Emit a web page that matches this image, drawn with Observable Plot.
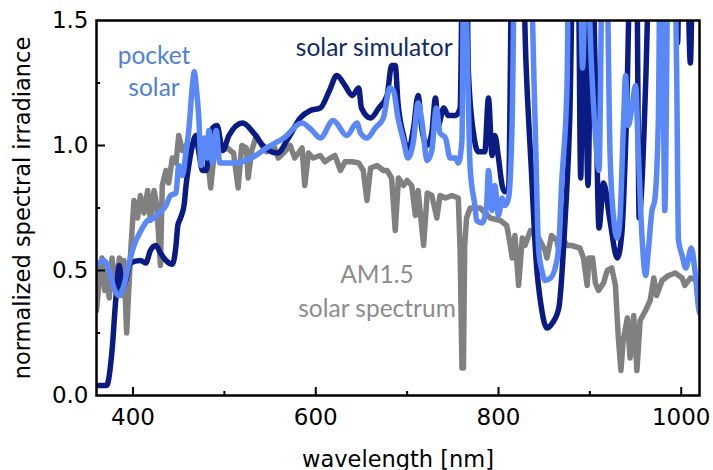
<!DOCTYPE html>
<html><head><meta charset="utf-8">
<script src="https://cdn.jsdelivr.net/npm/d3@7"></script>
<script src="https://cdn.jsdelivr.net/npm/@observablehq/plot@0.6"></script>
<style>body{margin:0;background:#fff}</style>
</head><body><div id="chart"></div>
<script>
// solar simulator (navy)
const simWl = [361,371,377,381,385,388,392,397,408,414,419,425,430,436,443,447,449,452,456,458,461,465,469,472,476,480,483,487,492,498,505,520,532,542,558,570,583,594,605,615,623,632,640,647,650,660,669,678,683,687,690,696,701,707,712,716,722,727,731,734,740,745,753,758,761,765,767,773,778,785,789,793,796,800,804,807,811,815,826,830,836,841,847,853,859,866,873,878,882,887,890,893,898,902,907,910,915,922,930,935,940,945,951,954,957,961,966,993,996,998,1006,1010,1013,1020];
const simVal = [0.04,0.04,0.18,0.38,0.52,0.43,0.46,0.53,0.54,0.53,0.58,0.6,0.57,0.54,0.525,0.6,0.68,0.71,0.765,0.84,0.92,1.0,1.04,0.975,0.9,0.9,0.975,1.07,1.08,0.98,1.04,1.09,1.05,1.0,0.97,1.03,1.11,1.14,1.15,1.22,1.28,1.24,1.2,1.23,1.15,1.11,1.15,1.2,1.32,1.32,1.17,1.04,0.975,1.07,1.2,1.07,1.0,1.05,1.19,1.08,1.15,1.12,1.12,1.15,1.8,1.8,1.3,1.04,0.975,0.975,1.19,0.96,1.04,0.95,0.84,0.815,0.82,1.8,1.8,1.34,0.9,0.55,0.35,0.27,0.29,0.35,0.71,1.11,1.8,1.8,0.87,1.8,0.84,1.8,1.1,0.67,0.85,0.7,0.55,0.65,1.1,1.8,1.8,0.71,0.85,1.24,1.8,1.8,1.41,1.8,1.8,1.33,1.8,1.8];

// pocket solar (light blue)
const pocketWl = [360,368,374,379,385,390,396,401,408,416,423,430,436,441,447,450,454,458,461,465,467,469,472,474.5,478,481,483,487,491,495,510,532,546,565,585,596,605,619,634,645,649,656,665,674,681,685,690,696,701,707,712,716,722,727,732,736,742,747,753,756,760,762,765,769,774.5,776,782,787,789,793,796,800,804,807,811,815,818,834,840,844,847.5,851,857,862,866,869,875,877,889,892,896,902,908,910,914,918,922,926,930,933,937,939,942,946,950,953,957,961,964,968,971,975,977,979,982,986,992,995,997,1001,1005,1011,1015,1019,1020];
const pocketVal = [0.52,0.54,0.50,0.43,0.40,0.44,0.535,0.60,0.655,0.70,0.71,0.735,0.76,0.80,0.81,0.92,0.88,0.975,1.06,1.24,1.295,1.24,1.11,0.92,1.03,0.95,1.06,0.93,1.06,0.93,0.93,0.955,0.99,1.03,1.09,1.06,1.03,1.10,1.04,1.09,1.05,1.03,1.07,1.11,1.23,1.22,1.11,1.02,0.95,1.02,1.17,1.10,0.94,0.98,1.15,1.05,1.03,0.95,0.95,0.93,1.02,1.8,1.5,0.91,0.75,0.70,0.69,0.76,0.9,0.74,0.84,0.72,0.79,0.76,0.79,1.11,1.8,1.8,1.1,0.58,0.50,0.46,0.47,0.51,0.60,0.84,1.24,1.8,1.8,1.31,1.8,1.3,0.95,0.9,1.8,1.8,0.98,0.71,0.63,0.71,1.11,1.28,1.08,1.15,1.24,0.98,0.64,0.48,0.58,0.74,0.78,1.11,1.8,1.8,0.74,1.8,1.8,1.3,0.62,0.56,0.51,0.59,0.5,0.35,0.33];

// AM1.5 solar spectrum (gray)
const amWl = [360,363,366,369,370,374,377,381,385,388,390,393,395,397.5,401,405,408,412,416,419,423,426,430,432,436,439,443,447,450,454,458,463,467,474,480,485,489,494,497.5,503,510,515,519,524,526,530,535,541,546,554,559,566,572,577,585,588,592,597,605,610,616,621,627,632,640,647,652,656,660,667,674,678,683,687,690.5,696,700,705,709,712,718,722,727,732.5,736,742,749,756,758,760,761.6,763,765,769,780,791,802,809,813,815,818,822,826,829,835,844,851,853,858,864,867.5,870,875,880,889,893,897,899,903,906,909.5,915,919,924,928,931,934,936.5,941,944,948,951.5,955,961,966,970,973,979,986,993.5,1001,1004,1010,1019];
const amVal = [0.34,0.46,0.55,0.42,0.50,0.39,0.55,0.42,0.55,0.40,0.54,0.25,0.4,0.58,0.78,0.71,0.80,0.73,0.82,0.70,0.82,0.76,0.52,0.84,0.90,0.85,0.95,0.93,1.04,0.98,1.0,0.975,1.03,0.975,1.0,0.83,0.975,1.04,0.98,0.99,0.97,0.83,1.0,0.99,0.87,0.98,1.04,1.0,0.975,1.0,0.95,0.975,1.0,0.95,0.99,0.84,0.97,0.95,0.96,0.935,0.95,0.96,0.9,0.935,0.935,0.93,0.9,0.78,0.91,0.92,0.9,0.9,0.87,0.66,0.87,0.84,0.86,0.84,0.72,0.82,0.60,0.81,0.80,0.71,0.80,0.79,0.80,0.79,0.58,0.11,0.11,0.6,0.71,0.75,0.75,0.71,0.70,0.68,0.60,0.55,0.64,0.44,0.63,0.6,0.66,0.63,0.58,0.55,0.64,0.62,0.55,0.63,0.60,0.60,0.59,0.55,0.44,0.55,0.55,0.45,0.42,0.45,0.50,0.51,0.44,0.24,0.10,0.22,0.31,0.15,0.32,0.10,0.30,0.34,0.38,0.47,0.40,0.46,0.48,0.49,0.47,0.44,0.47,0.46];

const xMajor = [400, 600, 800, 1000];
const xMinor = [500, 700, 900];
const yMajor = [0, 0.5, 1.0, 1.5];
const yMinor = [0.25, 0.75, 1.25];

const notes = [
  {text: "pocket", wl: 423, v: 1.328, color: "#4f80dc"},
  {text: "solar", wl: 423, v: 1.2, color: "#4f80dc"},
  {text: "solar simulator", wl: 664, v: 1.36, color: "#0f2a6b"},
  {text: "AM1.5", wl: 667, v: 0.452, color: "#8c8c8c"},
  {text: "solar spectrum", wl: 667, v: 0.316, color: "#8c8c8c"}
];

const toRows = (w, v) => w.map((d, i) => ({wl: d, v: v[i]}));
const sim = toRows(simWl, simVal);
const pocket = toRows(pocketWl, pocketVal);
const am = toRows(amWl, amVal);

const W = 713, H = 470, ML = 96, MR = 14, MT = 20, MB = 75;
const FW = W - ML - MR, FH = H - MT - MB;
const AX = "DejaVu Sans";

const chart = Plot.plot({
  width: W, height: H,
  marginLeft: ML, marginRight: MR, marginTop: MT, marginBottom: MB,
  style: {fontFamily: AX, fontSize: "23px", color: "black", background: "white", overflow: "visible"},
  x: {domain: [360, 1020]},
  y: {domain: [0, 1.5]},
  marks: [
    Plot.line(am, {x: "wl", y: "v", stroke: "#808080", strokeWidth: 5.5, clip: true}),
    Plot.line(sim, {x: "wl", y: "v", stroke: "#0b1b84", strokeWidth: 5.5, curve: "monotone-x", clip: true}),
    Plot.line(pocket, {x: "wl", y: "v", stroke: "#5a88f7", strokeWidth: 5.5, curve: "monotone-x", clip: true}),
    Plot.text(notes, {x: "wl", y: "v", text: "text", fill: d => d.color, lineAnchor: "bottom", fontFamily: "Lato", fontSize: 24.5}),
    Plot.ruleX(xMajor, {x: d => d, stroke: "black", strokeWidth: 2, insetTop: FH - 8}),
    Plot.ruleX(xMinor, {x: d => d, stroke: "black", strokeWidth: 2, insetTop: FH - 4}),
    Plot.ruleY(yMajor.slice(1, 3), {y: d => d, stroke: "black", strokeWidth: 2, insetRight: FW - 9}),
    Plot.ruleY(yMinor, {y: d => d, stroke: "black", strokeWidth: 2, insetRight: FW - 4}),
    Plot.frame({stroke: "black", strokeWidth: 2.5}),
    Plot.axisX({ticks: xMajor, tickSize: 0, tickPadding: 13, tickFormat: d => String(d), label: null, fontFamily: AX, fontSize: 23}),
    Plot.axisY({ticks: yMajor, tickSize: 0, tickPadding: 8, tickFormat: d3.format(".1f"), label: null, fontFamily: AX, fontSize: 23}),
    Plot.text(["wavelength [nm]"], {frameAnchor: "bottom", lineAnchor: "bottom", dy: 71, fontFamily: AX, fontSize: 22.5}),
    Plot.text(["normalized spectral irradiance"], {frameAnchor: "left", textAnchor: "middle", rotate: -90, dx: -74, fontFamily: AX, fontSize: 22.5})
  ]
});
document.getElementById("chart").appendChild(chart);
</script>
</body></html>
